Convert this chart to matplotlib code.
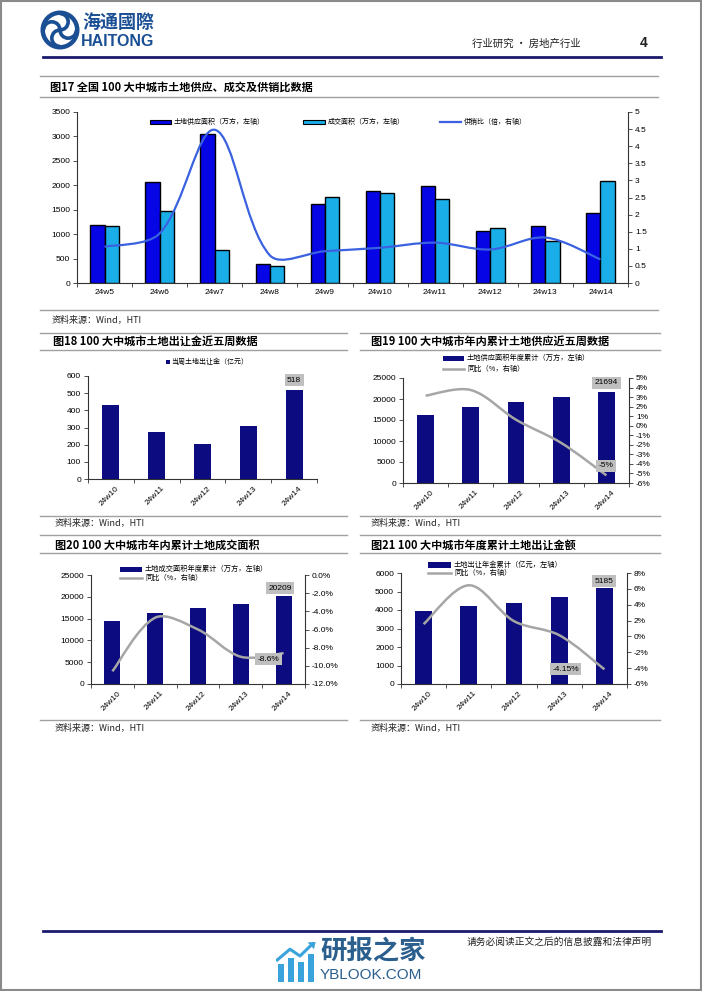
import numpy as np
import matplotlib
matplotlib.use('Agg')
import matplotlib.pyplot as plt
from matplotlib.path import Path
from matplotlib.patches import PathPatch, Rectangle, Circle, Arc, Polygon
from matplotlib.lines import Line2D
from matplotlib.transforms import ScaledTranslation

# ---------------- data ----------------
weeks_a = ['24w5', '24w6', '24w7', '24w8', '24w9', '24w10', '24w11', '24w12', '24w13', '24w14']
land_supply = [1195, 2070, 3055, 390, 1612, 1887, 1989, 1066, 1162, 1435]
land_deal = [1162, 1470, 685, 357, 1763, 1845, 1710, 1128, 861, 2085]
supply_sales_ratio = [1.06, 1.45, 4.48, 0.81, 0.93, 1.03, 1.18, 0.98, 1.33, 0.69]

weeks_b = ['24w10', '24w11', '24w12', '24w13', '24w14']
weekly_premium = [430, 275, 201, 308, 518]
cum_supply = [16260, 18170, 19360, 20400, 21694]
cum_supply_yoy = [3.15, 3.74, 0.63, -1.8, -5.2]
cum_deal = [14520, 16350, 17430, 18280, 20209]
cum_deal_yoy = [-10.6, -4.7, -6.0, -9.0, -8.6]
cum_premium = [3951, 4221, 4404, 4727, 5185]
cum_premium_yoy = [1.55, 6.45, 1.93, 0.16, -4.15]

# ---------------- setup ----------------
W, H = 702, 991
fig = plt.figure(figsize=(7.02, 9.91), dpi=100)
LAT = ['Liberation Sans', 'Noto Sans CJK SC']
CJK = ['Noto Sans CJK SC', 'DejaVu Sans']
plt.rcParams['font.family'] = LAT

NAVY = '#0C0C80'
BLUE = '#0505E6'
CYAN = '#1AAEE8'
LINE_BLUE = '#3A62E0'
GRAY_LINE = '#A6A6A6'
RULE = '#A0A0A0'


def fx(x):
    return x / W


def fy(y):
    return 1 - y / H


def hline(y, x0, x1, color=RULE, lw=1.0):
    fig.add_artist(Line2D([fx(x0), fx(x1)], [fy(y), fy(y)], color=color, lw=lw,
                          transform=fig.transFigure))


def ftext(x, y, s, **kw):
    kw.setdefault('va', 'center')
    fig.text(fx(x), fy(y), s, **kw)


def frect(x0, y0, x1, y1, **kw):
    fig.add_artist(Rectangle((fx(x0), fy(y1)), fx(x1) - fx(x0), fy(y0) - fy(y1),
                             transform=fig.transFigure, **kw))


def fline(x0, x1, y, **kw):
    fig.add_artist(Line2D([fx(x0), fx(x1)], [fy(y), fy(y)], transform=fig.transFigure, **kw))


def axr(x0, y0, x1, y1):
    return fig.add_axes([fx(x0), fy(y1), (x1 - x0) / W, (y1 - y0) / H])


def style(ax):
    ax.spines['top'].set_visible(False)
    ax.spines['right'].set_visible(False)
    for s in ax.spines.values():
        s.set_color('#333333')
        s.set_linewidth(0.8)
    ax.tick_params(direction='out', length=3, width=0.6, labelsize=6, pad=2,
                   colors='#333333', labelcolor='black')
    ax.patch.set_alpha(0)


def style_right(ax2):
    for s in ['top', 'left', 'bottom']:
        ax2.spines[s].set_visible(False)
    ax2.spines['right'].set_color('#333333')
    ax2.spines['right'].set_linewidth(0.8)
    ax2.tick_params(direction='out', length=3, width=0.6, labelsize=6, pad=2,
                    colors='#333333', labelcolor='black')


def smooth(ax, xs, ys, color, lw):
    """Smoothed line through the data points (chord-weighted Catmull-Rom Bezier)."""
    pts = ax.transData.transform(np.column_stack([xs, ys]).astype(float))
    n = len(pts)
    verts = [pts[0]]
    codes = [Path.MOVETO]
    for i in range(n - 1):
        p1, p2 = pts[i], pts[i + 1]
        d12 = np.hypot(*(p2 - p1))
        if i > 0:
            p0 = pts[i - 1]
            d01 = np.hypot(*(p1 - p0))
            c1 = p1 + (p2 - p0) * d12 / (d01 + d12) / 3
        else:
            c1 = p1 + (p2 - p1) / 6
        if i + 2 < n:
            p3 = pts[i + 2]
            d23 = np.hypot(*(p3 - p2))
            c2 = p2 - (p3 - p1) * d12 / (d12 + d23) / 3
        else:
            c2 = p2 - (p2 - p1) / 6
        verts += [c1, c2, p2]
        codes += [Path.CURVE4] * 3
    verts = ax.transData.inverted().transform(np.array(verts))
    ax.add_patch(PathPatch(Path(verts, codes), fc='none', ec=color, lw=lw,
                           capstyle='butt', joinstyle='round', zorder=5))


def xcats(ax, labels, rotate=False):
    n = len(labels)
    ax.set_xlim(-0.5, n - 0.5)
    ax.set_xticks(range(n))
    ax.set_xticks(np.arange(-0.5, n, 1.0), minor=True)
    ax.tick_params(axis='x', which='major', length=0, pad=4)
    ax.tick_params(axis='x', which='minor', length=3, width=0.6, colors='#333333')
    if rotate:
        ax.set_xticklabels(labels, rotation=45, ha='right', fontsize=6)
        for lab in ax.get_xticklabels():
            lab.set_transform(lab.get_transform() + ScaledTranslation(7 / 72, 0, fig.dpi_scale_trans))
    else:
        ax.set_xticklabels(labels, fontsize=6)


def box_label(ax, x, y, s, dx, dy):
    ax.annotate(s, xy=(x, y), xytext=(dx, dy), textcoords='offset points',
                ha='center', va='center', fontsize=6, zorder=10, annotation_clip=False,
                bbox=dict(boxstyle='square,pad=0.3', fc='#BFBFBF', ec='none'))


# ---------------- page frame & header ----------------
fig.add_artist(Rectangle((0.001, 0.001), 0.998, 0.998, transform=fig.transFigure,
                         fc='none', ec='#8A8A8A', lw=1.5))

logo = fig.add_axes([fx(40), fy(50), 40 / W, 40 / H])
logo.set_xlim(-1.1, 1.1)
logo.set_ylim(-1.1, 1.1)
logo.set_aspect('equal')
logo.axis('off')
logo.add_patch(Circle((0, 0), 0.95, fc='none', ec='#1B4F93', lw=3.2))
for ang in [0, 90, 180, 270]:
    a = np.deg2rad(ang)
    cx, cy = 0.45 * np.cos(a), 0.45 * np.sin(a)
    logo.add_patch(Arc((cx, cy), 0.9, 0.9, theta1=ang + 180, theta2=ang + 360,
                       ec='#1B4F93', lw=2.6))
logo.add_patch(Circle((0, 0), 0.12, fc='#1B4F93', ec='none'))

ftext(82, 22, '海通國際', family=CJK, fontsize=13, fontweight='bold', color='#1B4F93', ha='left')
ftext(81, 41, 'HAITONG', fontsize=11.5, fontweight='bold', color='#1B4F93', ha='left')
ftext(472, 44, '行业研究 • 房地产行业', family=CJK, fontsize=7.5, color='#222222', ha='left')
ftext(640, 43, '4', fontsize=10, fontweight='bold', color='#222222', ha='left')
hline(57, 43, 661, color='#1A1A6E', lw=2.0)

# ---------------- chart 17 ----------------
hline(76, 40, 658)
ftext(50, 87, '图17 全国 100 大中城市土地供应、成交及供销比数据', family=CJK, fontsize=8,
      fontweight='bold', ha='left')
hline(97, 40, 658)

ax = axr(77, 112, 628, 283)
style(ax)
xa = np.arange(len(weeks_a))
bw = 0.26
ax.bar(xa - bw / 2, land_supply, bw, color=BLUE, edgecolor='black', lw=1.0, zorder=2)
ax.bar(xa + bw / 2, land_deal, bw, color=CYAN, edgecolor='black', lw=1.0, zorder=2)
ax.set_ylim(0, 3500)
ax.set_yticks(range(0, 3501, 500))
xcats(ax, weeks_a)
ax2 = ax.twinx()
style_right(ax2)
ax2.set_ylim(0, 5)
ax2.set_yticks(np.arange(0, 5.01, 0.5))
ax2.set_yticklabels(['0', '0.5', '1', '1.5', '2', '2.5', '3', '3.5', '4', '4.5', '5'])
smooth(ax2, list(xa), supply_sales_ratio, LINE_BLUE, 1.6)

frect(150, 119.5, 171, 124, fc=BLUE, ec='black', lw=0.8)
ftext(174, 121.7, '土地供应面积（万方，左轴）', family=CJK, fontsize=5, ha='left')
frect(303, 119.5, 325, 124, fc=CYAN, ec='black', lw=0.8)
ftext(328, 121.7, '成交面积（万方，左轴）', family=CJK, fontsize=5, ha='left')
fline(440, 461, 121.7, color=LINE_BLUE, lw=1.6)
ftext(464, 121.7, '供销比（倍，右轴）', family=CJK, fontsize=5, ha='left')

hline(310, 40, 658)
ftext(52, 320, '资料来源：Wind，HTI', family=CJK, fontsize=6.5, ha='left', color='#222222')
hline(333, 40, 347)
hline(333, 360, 660)

# ---------------- chart 18 ----------------
ftext(53, 341, '图18 100 大中城市土地出让金近五周数据', family=CJK, fontsize=8,
      fontweight='bold', ha='left')
hline(350, 40, 347)
ax = axr(88, 376, 317, 479)
style(ax)
xb = np.arange(len(weeks_b))
ax.bar(xb, weekly_premium, 0.37, color=NAVY, zorder=2)
ax.set_ylim(0, 600)
ax.set_yticks(range(0, 601, 100))
xcats(ax, weeks_b, rotate=True)
box_label(ax, 4, weekly_premium[4], f'{weekly_premium[4]:.0f}', 0, 7)
frect(166, 360, 169.5, 363.5, fc=NAVY, ec='none')
ftext(171, 361.7, '当周土地出让金（亿元）', family=CJK, fontsize=5, ha='left')
hline(516, 40, 347)
ftext(55, 523, '资料来源：Wind，HTI', family=CJK, fontsize=6.5, ha='left', color='#222222')

# ---------------- chart 19 ----------------
ftext(371, 341, '图19 100 大中城市年内累计土地供应近五周数据', family=CJK, fontsize=8,
      fontweight='bold', ha='left')
hline(350, 360, 660)
ax = axr(403, 378, 629, 483)
style(ax)
ax.bar(xb, cum_supply, 0.37, color=NAVY, zorder=2)
ax.set_ylim(0, 25000)
ax.set_yticks(range(0, 25001, 5000))
xcats(ax, weeks_b, rotate=True)
ax2 = ax.twinx()
style_right(ax2)
ax2.set_ylim(-6, 5)
ax2.set_yticks(range(-6, 6))
ax2.set_yticklabels([f'{v}%' for v in range(-6, 6)])
smooth(ax2, list(xb), cum_supply_yoy, GRAY_LINE, 1.8)
box_label(ax, 4, cum_supply[4], f'{cum_supply[4]:.0f}', 0, 6.5)
box_label(ax2, 4, cum_supply_yoy[4], f'{cum_supply_yoy[4]:.0f}%', 0, 7)
frect(443, 356, 464, 361, fc=NAVY, ec='none')
ftext(467, 358.3, '土地供应面积年度累计（万方，左轴）', family=CJK, fontsize=5.2, ha='left')
fline(443, 464, 369, color=GRAY_LINE, lw=1.8)
ftext(467, 369, '同比（%，右轴）', family=CJK, fontsize=5.2, ha='left')
hline(516, 360, 660)
ftext(371, 523, '资料来源：Wind，HTI', family=CJK, fontsize=6.5, ha='left', color='#222222')

# ---------------- chart 20 ----------------
hline(535, 40, 347)
ftext(55, 545, '图20 100 大中城市年内累计土地成交面积', family=CJK, fontsize=8,
      fontweight='bold', ha='left')
hline(553, 40, 347)
ax = axr(91, 575, 305, 684)
style(ax)
ax.bar(xb, cum_deal, 0.37, color=NAVY, zorder=2)
ax.set_ylim(0, 25000)
ax.set_yticks(range(0, 25001, 5000))
xcats(ax, weeks_b, rotate=True)
ax2 = ax.twinx()
style_right(ax2)
ax2.set_ylim(-12, 0)
ax2.set_yticks(range(-12, 1, 2))
ax2.set_yticklabels([f'{v:.1f}%' for v in range(-12, 1, 2)])
smooth(ax2, list(xb), cum_deal_yoy, GRAY_LINE, 1.8)
box_label(ax, 4, cum_deal[4], f'{cum_deal[4]:.0f}', -2.5, 5.5)
box_label(ax2, 4, cum_deal_yoy[4], f'{cum_deal_yoy[4]:.1f}%', -11, -4.5)
frect(120, 567, 142, 572, fc=NAVY, ec='none')
ftext(145, 569.3, '土地成交面积年度累计（万方，左轴）', family=CJK, fontsize=5.2, ha='left')
fline(120, 142, 578.3, color=GRAY_LINE, lw=1.8)
ftext(145, 578.3, '同比（%，右轴）', family=CJK, fontsize=5.2, ha='left')
hline(720, 40, 347)
ftext(55, 728, '资料来源：Wind，HTI', family=CJK, fontsize=6.5, ha='left', color='#222222')

# ---------------- chart 21 ----------------
hline(535, 360, 660)
ftext(371, 545, '图21 100 大中城市年度累计土地出让金额', family=CJK, fontsize=8,
      fontweight='bold', ha='left')
hline(553, 360, 660)
ax = axr(401, 573, 627, 684)
style(ax)
ax.bar(xb, cum_premium, 0.37, color=NAVY, zorder=2)
ax.set_ylim(0, 6000)
ax.set_yticks(range(0, 6001, 1000))
xcats(ax, weeks_b, rotate=True)
ax2 = ax.twinx()
style_right(ax2)
ax2.set_ylim(-6, 8)
ax2.set_yticks(range(-6, 9, 2))
ax2.set_yticklabels([f'{v}%' for v in range(-6, 9, 2)])
smooth(ax2, list(xb), cum_premium_yoy, GRAY_LINE, 1.8)
box_label(ax, 4, cum_premium[4], f'{cum_premium[4]:.0f}', 0, 5)
box_label(ax2, 4, cum_premium_yoy[4], f'{cum_premium_yoy[4]:.2f}%', -28, 0)
frect(428, 562.5, 451, 567.5, fc=NAVY, ec='none')
ftext(454, 565, '土地出让年金累计（亿元，左轴）', family=CJK, fontsize=5.2, ha='left')
fline(428, 451, 573, color=GRAY_LINE, lw=1.8)
ftext(454, 573, '同比（%，右轴）', family=CJK, fontsize=5.2, ha='left')
hline(720, 360, 660)
ftext(371, 728, '资料来源：Wind，HTI', family=CJK, fontsize=6.5, ha='left', color='#222222')

# ---------------- footer ----------------
hline(931, 43, 661, color='#1A1A6E', lw=2.0)
ftext(467, 942, '请务必阅读正文之后的信息披露和法律声明', family=CJK, fontsize=7,
      ha='left', color='#222222')

wm = fig.add_axes([fx(276), fy(982), 40 / W, 40 / H])
wm.set_xlim(0, 10)
wm.set_ylim(0, 10)
wm.axis('off')
for bx, bh in [(0.5, 4.5), (3.0, 6.0), (5.5, 5.0), (8.0, 7.0)]:
    wm.add_patch(Rectangle((bx, 0), 1.6, bh, fc='#3AA3DC', ec='none'))
wm.plot([0.3, 3.5, 6.0, 9.2], [5.5, 8.2, 6.5, 9.6], color='#3AA3DC', lw=2.2)
wm.add_patch(Polygon([[9.9, 10], [7.9, 9.9], [9.5, 8.2]], fc='#3AA3DC', ec='none'))
ftext(320, 952, '研报之家', family=CJK, fontsize=19, fontweight='bold', color='#2B5F8E', ha='left')
ftext(320, 975, 'YBLOOK.COM', fontsize=11, color='#2B5F8E', ha='left')

fig.savefig('out.png', dpi=100)
